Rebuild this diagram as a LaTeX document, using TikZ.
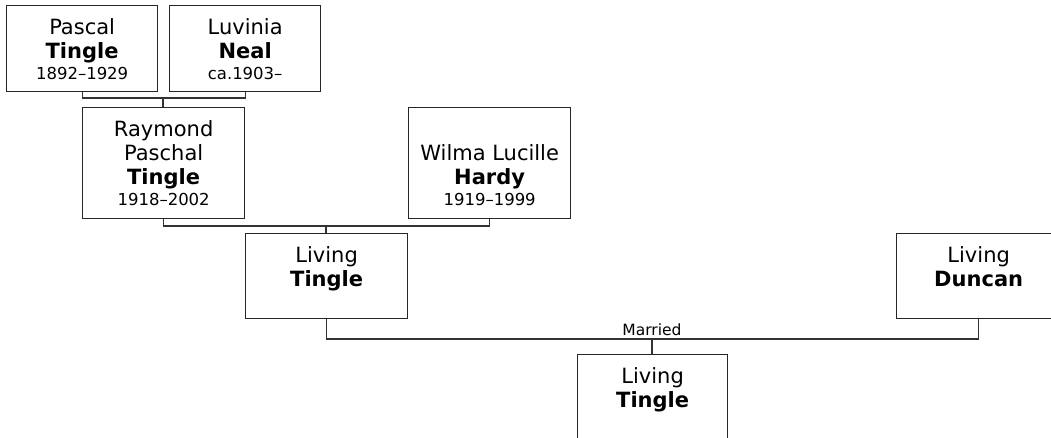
\documentclass[tikz,border=0pt]{standalone}
\usepackage{fontspec}
\setmainfont{DejaVu Sans}
\newcommand\nmfont{\fontsize{21pt}{24pt}\selectfont}
\newcommand\dtfont{\fontsize{16.5pt}{21pt}\selectfont}
\newcommand\pcontent[5]{\parbox[c][#2pt][t]{#1pt}{\centering\vspace*{13pt}\nmfont #3\par\textbf{#4}\par\dtfont #5\par}}
\tikzset{
  person/.style={draw=black!85, line width=1.3pt, inner sep=0pt, anchor=north west, fill=white},
  link/.style={draw=black!80, line width=1.3pt},
  lbl/.style={font=\fontsize{15.5pt}{18pt}\selectfont, inner sep=0pt}
}
\begin{document}
\begin{tikzpicture}[x=1pt,y=-1pt]
\useasboundingbox (0,0) rectangle (1051,438);
\clip (0,0) rectangle (1051,438);
\fill[white] (0,0) rectangle (1051,438);
\node[person] (pascal) at (6,5) {\pcontent{151}{86}{Pascal}{Tingle}{1892–1929}};
\node[person] (luvinia) at (169,5) {\pcontent{151}{86}{Luvinia}{Neal}{ca.1903–}};
\node[person] (raymond) at (82,107) {\pcontent{162}{111}{Raymond\par Paschal}{Tingle}{1918–2002}};
\node[person] (wilma) at (408,107) {\parbox[c][111pt][t]{162pt}{\centering\vspace*{37pt}\nmfont Wilma Lucille\par\textbf{Hardy}\par\dtfont 1919–1999\par}};
\node[person] (livt) at (245,233) {\pcontent{162}{85}{Living}{Tingle}{}};
\node[person] (livd) at (896,233) {\pcontent{164}{85}{Living}{Duncan}{}};
\node[person] (child) at (577,354) {\pcontent{150}{100}{Living}{Tingle}{}};
\coordinate (m1) at (163,98);
\coordinate (m2) at (326,226);
\coordinate (m3) at (652,339);
\draw[link] (pascal.south) |- (m1) -| (luvinia.south);
\draw[link] (m1) -- (m1 |- raymond.north);
\draw[link] (raymond.south) |- (m2) -| (wilma.south);
\draw[link] (m2) -- (m2 |- livt.north);
\draw[link] (livt.south) |- (m3) -| (livd.south);
\draw[link] (m3) -- (m3 |- child.north);
\node[lbl, anchor=base] (married) at (652,335) {Married};
\end{tikzpicture}
\end{document}
